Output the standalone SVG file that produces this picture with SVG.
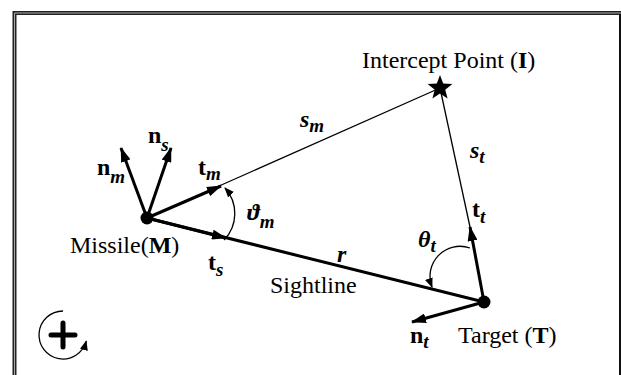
<svg xmlns="http://www.w3.org/2000/svg" width="621" height="375" viewBox="0 0 621 375">
<style>
text{font-family:"Liberation Serif","Times New Roman",serif;fill:#000}
.lbl{font-size:24px}
.v{font-size:24px;font-weight:bold}
.vi{font-size:24px;font-weight:bold;font-style:italic}
.sub{font-size:19px;font-weight:bold;font-style:italic}
.thin{stroke:#000;stroke-width:1.3;fill:none}
.thick{stroke:#000;stroke-width:3;fill:none}
.arr{marker-end:url(#ah)}
</style>
<defs>
<marker id="ah" markerUnits="userSpaceOnUse" viewBox="0 0 15 10" refX="14" refY="5" markerWidth="15" markerHeight="10" orient="auto">
<path d="M0,0 L15,5 L0,10 Z" fill="#000"/>
</marker>
<marker id="sh" markerUnits="userSpaceOnUse" viewBox="0 0 10 8" refX="9" refY="4" markerWidth="10" markerHeight="8" orient="auto">
<path d="M0,0 L10,4 L0,8 Z" fill="#000"/>
</marker>
</defs>
<rect width="621" height="375" fill="#fff"/>
<g id="frame" fill="none">
<path d="M14.5,375 V13 H621" stroke="#222" stroke-width="4"/>
<path d="M14.5,375 V13 H621" stroke="#aaa" stroke-width="1"/>
<path d="M620,14 V375" stroke="#111" stroke-width="2"/>
</g>
<g id="connectors">
<line class="thick" x1="147" y1="218" x2="484" y2="302"/>
<line class="thin" x1="147" y1="218" x2="440" y2="88"/>
<line class="thin" x1="440" y1="88" x2="470" y2="227"/>
<line class="thick arr" x1="147" y1="218" x2="221" y2="186"/>
<line class="thick arr" x1="147" y1="218" x2="226" y2="238"/>
<line class="thick arr" x1="147" y1="218" x2="121" y2="148"/>
<line class="thick arr" x1="147" y1="218" x2="171" y2="148"/>
<line class="thick arr" x1="484" y1="302" x2="470" y2="227"/>
<line class="thick arr" x1="484" y1="302" x2="412" y2="322"/>
<path class="thin" d="M224,240 A38,38 0 0 0 225,188" marker-end="url(#sh)"/>
<path class="thin" d="M470,248 A30,30 0 0 0 432,287" marker-end="url(#sh)"/>
</g>
<g id="missile">
<circle cx="147" cy="218" r="6.5" fill="#000"/>
<text class="lbl" x="70" y="253">Missile(<tspan font-weight="bold">M</tspan>)</text>
</g>
<g id="target">
<circle cx="484" cy="302" r="6.5" fill="#000"/>
<text class="lbl" x="458" y="343">Target (<tspan font-weight="bold">T</tspan>)</text>
</g>
<g id="intercept">
<polygon points="440,75 443.2,83.6 452.4,84 445.2,89.7 447.6,98.5 440,93.5 432.4,98.5 434.8,89.7 427.6,84 436.8,83.6" fill="#000"/>
<text class="lbl" x="362" y="68">Intercept Point (<tspan font-weight="bold">I</tspan>)</text>
</g>
<g id="labels">
<text x="148" y="143"><tspan class="v">n</tspan><tspan class="sub" dy="8">s</tspan></text>
<text x="97" y="175"><tspan class="v">n</tspan><tspan class="sub" dy="8">m</tspan></text>
<text x="198" y="175"><tspan class="v">t</tspan><tspan class="sub" dy="5">m</tspan></text>
<text x="208" y="270"><tspan class="v">t</tspan><tspan class="sub" dy="6">s</tspan></text>
<text x="247" y="220"><tspan class="vi">ϑ</tspan><tspan class="sub" dy="8">m</tspan></text>
<text x="300" y="127"><tspan class="vi">s</tspan><tspan class="sub" dy="5">m</tspan></text>
<text x="470" y="158"><tspan class="vi">s</tspan><tspan class="sub" dy="5">t</tspan></text>
<text class="vi" x="337" y="262">r</text>
<text class="lbl" x="270" y="293">Sightline</text>
<text x="418" y="247"><tspan class="vi">θ</tspan><tspan class="sub" dy="5">t</tspan></text>
<text x="472" y="217"><tspan class="v">t</tspan><tspan class="sub" dy="6">t</tspan></text>
<text x="410" y="343"><tspan class="v">n</tspan><tspan class="sub" dy="5">t</tspan></text>
</g>
<g id="rotation">
<path d="M51,335 H75 M63,323 V347" stroke="#000" stroke-width="5" stroke-linecap="round"/>
<path class="thin" d="M63,311 A24,24 0 1 0 86.2,341.2" marker-end="url(#sh)"/>
</g>
</svg>
